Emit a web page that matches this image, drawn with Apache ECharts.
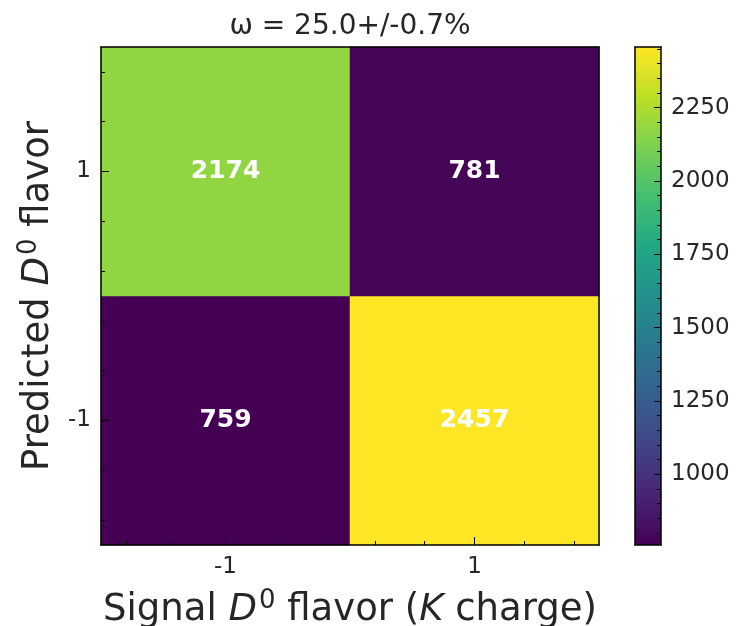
<!DOCTYPE html>
<html>
<head>
<meta charset="utf-8">
<script src="https://cdn.jsdelivr.net/npm/echarts@6/dist/echarts.min.js"></script>
<style>html,body{margin:0;padding:0;background:#fff;}#c{width:738px;height:626px;}</style>
</head>
<body>
<div id="c"></div>
<script>
// ---- data ----
const xCategories = ['-1', '1'];           // Signal D0 flavor (K charge)
const yCategories = ['-1', '1'];           // Predicted D0 flavor (bottom -> top)
const rowPredMinus1 = [759, 2457];         // predicted -1, signal -1 / 1
const rowPredPlus1 = [2174, 781];          // predicted 1, signal -1 / 1
const colorMin = 759;
const colorMax = 2457;
const colorbarTicks = [1000, 1250, 1500, 1750, 2000, 2250];
const titleText = 'ω = 25.0+/-0.7%';

const viridis = ['#440154','#482475','#414487','#355f8d','#2a788e','#21918c','#22a884','#44bf70','#7ad151','#bddf26','#fde725'];

const cells = [];
rowPredMinus1.forEach((v, i) => cells.push([i, 0, v]));
rowPredPlus1.forEach((v, i) => cells.push([i, 1, v]));

const minorCb = [];
for (let v = 800; v <= 2450; v += 50) if (colorbarTicks.indexOf(v) < 0) minorCb.push(v);
const minorIdx = [-0.4, -0.2, 0.2, 0.4, 0.6, 0.8, 1.2, 1.4];

const FONT = 'DejaVu Sans';
const TXT = '#262626';
const line = { show: true, onZero: false, lineStyle: { color: '#000', width: 1.5 } };
const noLine = { show: false, onZero: false };
const noTick = { show: false };
const noLabel = { show: false };
const noSplit = { show: false };
const tickStyle = { color: '#000', width: 1 };

const PLOT = { left: 101, top: 47, width: 498, height: 498, containLabel: false, outerBoundsMode: 'none' };
const CBAR = { left: 635, top: 47, width: 26, height: 498, containLabel: false, outerBoundsMode: 'none' };

const nameRich = {
  n: { fontSize: 37, fontFamily: FONT, color: TXT },
  i: { fontSize: 37, fontFamily: FONT, color: TXT, fontStyle: 'italic' },
  s: { fontSize: 26, fontFamily: FONT, color: TXT, verticalAlign: 'bottom', padding: [0, 0, 18, 2] }
};

const chart = echarts.init(document.getElementById('c'));
chart.setOption({
  backgroundColor: '#fff',
  animation: false,
  graphic: [{
    type: 'text', x: 350, y: 27, z: 20,
    style: { text: titleText, fill: TXT, font: '28px "DejaVu Sans"', textAlign: 'center', textVerticalAlign: 'middle' }
  }],
  grid: [
    Object.assign({}, PLOT),   // 0: heatmap
    Object.assign({}, PLOT),   // 1: minor ticks of heatmap
    Object.assign({}, CBAR),   // 2: colorbar frame + major ticks
    Object.assign({}, CBAR)    // 3: colorbar minor ticks
  ],
  xAxis: [
    { type: 'category', data: xCategories, gridIndex: 0, position: 'bottom', z: 10,
      axisLine: line, splitLine: noSplit,
      axisTick: { show: true, inside: true, alignWithLabel: true, length: 8, lineStyle: tickStyle },
      axisLabel: { color: TXT, fontSize: 23, fontFamily: FONT, margin: 11 },
      name: '{n|Signal }{i|D}{s|0}{n| flavor (}{i|K}{n| charge)}', nameLocation: 'middle', nameGap: 43,
      nameTextStyle: { rich: nameRich } },
    { type: 'category', data: xCategories, gridIndex: 0, position: 'top', z: 10,
      axisLine: line, axisTick: noTick, axisLabel: noLabel, splitLine: noSplit },
    { type: 'value', gridIndex: 1, min: -0.5, max: 1.5, position: 'bottom', z: 10,
      axisLine: noLine, splitLine: noSplit, axisLabel: noLabel,
      axisTick: { show: true, inside: true, length: 4, customValues: minorIdx, lineStyle: tickStyle } },
    { type: 'value', gridIndex: 2, min: 0, max: 1, position: 'bottom', z: 10,
      axisLine: line, axisTick: noTick, axisLabel: noLabel, splitLine: noSplit },
    { type: 'value', gridIndex: 2, min: 0, max: 1, position: 'top', z: 10,
      axisLine: line, axisTick: noTick, axisLabel: noLabel, splitLine: noSplit },
    { type: 'value', gridIndex: 3, min: 0, max: 1, show: false }
  ],
  yAxis: [
    { type: 'category', data: yCategories, gridIndex: 0, position: 'left', z: 10,
      axisLine: line, splitLine: noSplit,
      axisTick: { show: true, inside: true, alignWithLabel: true, length: 8, lineStyle: tickStyle },
      axisLabel: { color: TXT, fontSize: 23, fontFamily: FONT, margin: 10 },
      name: '{n|Predicted }{i|D}{s|0}{n| flavor}', nameLocation: 'middle', nameGap: 40,
      nameTextStyle: { rich: nameRich } },
    { type: 'category', data: yCategories, gridIndex: 0, position: 'right', z: 10,
      axisLine: line, axisTick: noTick, axisLabel: noLabel, splitLine: noSplit },
    { type: 'value', gridIndex: 1, min: -0.5, max: 1.5, position: 'left', z: 10,
      axisLine: noLine, splitLine: noSplit, axisLabel: noLabel,
      axisTick: { show: true, inside: true, length: 4, customValues: minorIdx, lineStyle: tickStyle } },
    { type: 'value', gridIndex: 2, min: colorMin, max: colorMax, position: 'right', z: 10,
      axisLine: line, splitLine: noSplit,
      axisTick: { show: true, inside: true, length: 7, customValues: colorbarTicks, lineStyle: tickStyle },
      axisLabel: { show: true, customValues: colorbarTicks, color: TXT, fontSize: 23, fontFamily: FONT, margin: 10,
        formatter: v => String(v) } },
    { type: 'value', gridIndex: 2, min: colorMin, max: colorMax, position: 'left', z: 10,
      axisLine: line, axisTick: noTick, axisLabel: noLabel, splitLine: noSplit },
    { type: 'value', gridIndex: 3, min: colorMin, max: colorMax, position: 'right', z: 10,
      axisLine: noLine, splitLine: noSplit, axisLabel: noLabel,
      axisTick: { show: true, inside: true, length: 4, customValues: minorCb, lineStyle: tickStyle } }
  ],
  visualMap: {
    type: 'continuous', min: colorMin, max: colorMax, seriesIndex: 0,
    calculable: false, realtime: false, hoverLink: false,
    orient: 'vertical', left: 635, top: 47, padding: 0,
    itemWidth: 26, itemHeight: 498, text: null, showLabel: false,
    inRange: { color: viridis }
  },
  series: [{
    type: 'heatmap', xAxisIndex: 0, yAxisIndex: 0, data: cells,
    label: { show: true, color: '#fff', fontSize: 25, fontWeight: 'bold', fontFamily: FONT,
      formatter: p => String(p.value[2]) },
    emphasis: { disabled: true }
  }]
});
</script>
</body>
</html>
